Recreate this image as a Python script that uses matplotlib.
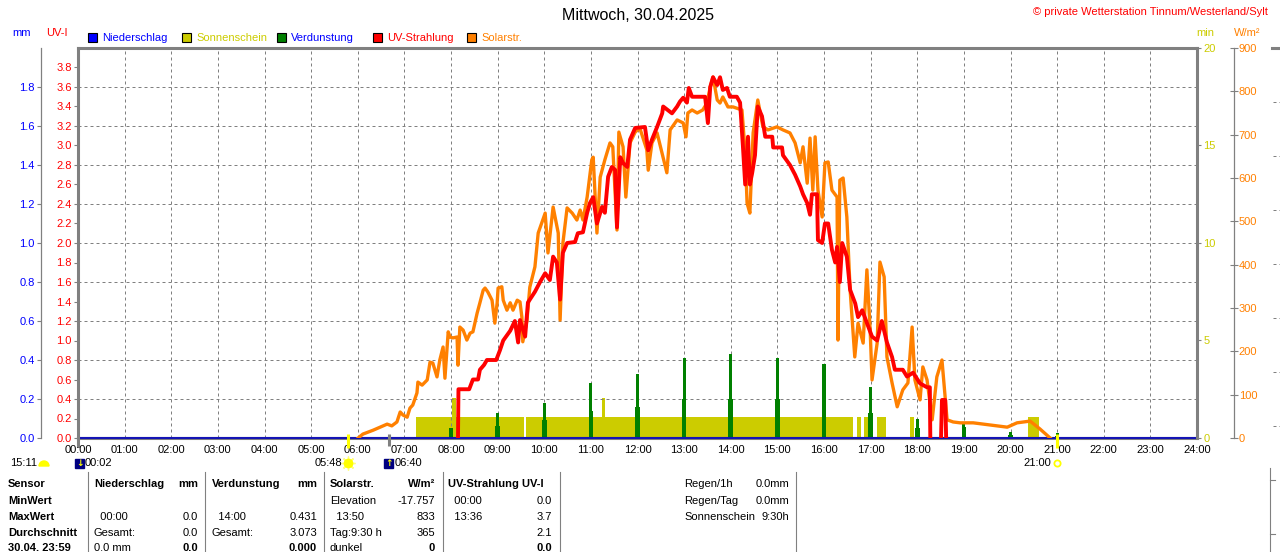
import numpy as np
import matplotlib
matplotlib.use("Agg")
import matplotlib.pyplot as plt
import matplotlib.transforms as mtransforms
from matplotlib.patches import Rectangle, Wedge
from matplotlib.lines import Line2D

plt.rcParams['font.family'] = ['Liberation Sans', 'DejaVu Sans']
plt.rcParams['font.size'] = 8

# ---------------- data ----------------
hours = list(range(25))
hour_labels = ["%02d:00" % h for h in hours]

# Sonnenschein (min)
sun_start = [7.25, 8.02, 9.61, 11.24, 16.71, 16.86, 17.14, 17.85, 20.38]
sun_end = [9.57, 8.11, 16.62, 11.30, 16.79, 16.97, 17.33, 17.93, 20.61]
sun_min = [1.08, 2.05, 1.08, 2.05, 1.08, 1.08, 1.08, 1.08, 1.08]

# Verdunstung (mm), hourly
evap_hours = [8, 9, 10, 11, 12, 13, 14, 15, 16, 17, 18, 19, 20, 21]
evap_mm = [0.05, 0.13, 0.18, 0.28, 0.33, 0.41, 0.431, 0.41, 0.38, 0.26, 0.10, 0.08, 0.03, 0.025]
evap_low = [0.03, 0.06, 0.09, 0.14, 0.16, 0.20, 0.20, 0.20, 0.19, 0.13, 0.05, 0.055, 0.015, 0.012]

# Niederschlag (mm)
rain_hours = [0, 24]
rain_mm = [0.0, 0.0]

# Solarstrahlung (W/m2)
solar_h = [6.01, 6.11, 6.33, 6.48, 6.63, 6.73, 6.84, 6.91, 6.97, 7.06, 7.12, 7.18, 7.27, 7.29,
           7.38, 7.49, 7.55, 7.61, 7.70, 7.76, 7.83, 7.87, 7.94, 7.98, 8.04, 8.13, 8.15, 8.19,
           8.26, 8.34, 8.41, 8.47, 8.56, 8.62, 8.69, 8.73, 8.79, 8.88, 8.94, 8.99, 9.01, 9.09,
           9.12, 9.20, 9.27, 9.33, 9.42, 9.48, 9.52, 9.54, 9.63, 9.69, 9.80, 9.87, 10.02, 10.08,
           10.19, 10.30, 10.34, 10.40, 10.49, 10.60, 10.70, 10.77, 10.83, 10.92, 11.02, 11.05,
           11.13, 11.20, 11.30, 11.41, 11.47, 11.56, 11.60, 11.69, 11.75, 11.84, 11.95, 12.05,
           12.20, 12.23, 12.31, 12.42, 12.63, 12.70, 12.85, 12.98, 13.04, 13.08, 13.17, 13.28,
           13.40, 13.49, 13.56, 13.62, 13.71, 13.77, 13.83, 13.94, 14.05, 14.24, 14.31, 14.35,
           14.41, 14.48, 14.58, 14.69, 14.80, 14.99, 15.12, 15.27, 15.38, 15.49, 15.55, 15.64,
           15.70, 15.76, 15.81, 15.87, 15.96, 16.02, 16.09, 16.17, 16.28, 16.30, 16.34, 16.41,
           16.49, 16.56, 16.66, 16.73, 16.84, 16.92, 16.99, 17.03, 17.14, 17.20, 17.29, 17.35,
           17.46, 17.57, 17.69, 17.80, 17.89, 17.95, 18.06, 18.12, 18.21, 18.32, 18.42, 18.53,
           18.64, 18.77, 18.92, 19.20, 19.56, 19.93, 20.14, 20.42, 20.63, 20.85]
solar_w = [0, 9, 18, 25, 32, 28, 37, 60, 53, 48, 69, 76, 104, 129,
           122, 134, 175, 173, 141, 180, 210, 138, 245, 233, 231, 233, 168, 256,
           249, 226, 242, 245, 288, 312, 341, 346, 337, 318, 265, 312, 346, 349,
           318, 295, 312, 295, 318, 314, 279, 222, 272, 348, 395, 473, 519, 427,
           533, 473, 272, 450, 531, 519, 503, 526, 503, 556, 642, 648,
           473, 602, 642, 681, 672, 480, 706, 672, 556, 681, 706, 715,
           665, 618, 681, 704, 612, 711, 734, 727, 695, 750, 757, 750,
           757, 773, 810, 833, 780, 773, 787, 764, 764, 757, 658, 542,
           519, 704, 780, 718, 711, 718, 711, 704, 681, 635, 672, 588,
           692, 572, 695, 572, 510, 635, 637, 572, 556, 226, 595, 600,
           510, 342, 187, 265, 219, 388, 249, 134, 219, 406, 372, 187,
           127, 72, 111, 127, 256, 134, 88, 164, 134, 42, 141, 180,
           42, 37, 35, 35, 30, 25, 35, 39, 21, 0]

# UV-Strahlung (UV-I)
uv_h = [8.15, 8.16, 8.39, 8.47, 8.58, 8.62, 8.71, 8.77, 8.97, 9.05, 9.12, 9.27, 9.37, 9.44,
        9.48, 9.59, 9.65, 9.80, 9.91, 10.02, 10.12, 10.19, 10.27, 10.34, 10.40, 10.49, 10.66,
        10.72, 10.83, 10.92, 10.98, 11.05, 11.13, 11.24, 11.30, 11.37, 11.45, 11.52, 11.56,
        11.63, 11.69, 11.78, 11.84, 11.95, 12.16, 12.23, 12.31, 12.42, 12.53, 12.55, 12.74,
        12.85, 12.91, 12.98, 13.06, 13.10, 13.17, 13.45, 13.51, 13.56, 13.62, 13.71, 13.77,
        13.83, 13.92, 13.98, 14.13, 14.20, 14.26, 14.31, 14.37, 14.41, 14.46, 14.52, 14.58,
        14.67, 14.74, 14.89, 14.91, 15.10, 15.12, 15.27, 15.38, 15.49, 15.55, 15.64, 15.70,
        15.74, 15.85, 15.87, 15.96, 16.02, 16.09, 16.17, 16.24, 16.28, 16.34, 16.39, 16.49,
        16.56, 16.67, 16.73, 16.82, 16.92, 17.03, 17.14, 17.24, 17.35, 17.46, 17.52, 17.69,
        17.78, 17.91, 18.06, 18.21, 18.27, 18.28, 18.40, 18.51, 18.53, 18.60, 18.62]
uv_v = [0, 0.5, 0.5, 0.6, 0.6, 0.7, 0.75, 0.8, 0.8, 0.9, 1.0, 1.1, 1.2, 0.98,
        1.21, 1.04, 1.39, 1.5, 1.6, 1.69, 1.62, 1.86, 1.8, 1.42, 1.9, 2.0, 2.01,
        2.1, 2.11, 2.31, 2.41, 2.47, 2.2, 2.37, 2.31, 2.68, 2.78, 2.75, 2.16,
        2.88, 2.82, 2.78, 3.06, 3.18, 3.19, 2.95, 3.06, 3.19, 3.33, 3.4, 3.33,
        3.4, 3.45, 3.49, 3.44, 3.59, 3.5, 3.5, 3.23, 3.6, 3.7, 3.62, 3.7,
        3.57, 3.59, 3.5, 3.5, 3.44, 3.0, 2.6, 3.09, 2.6, 2.72, 2.9, 3.4,
        3.3, 3.09, 3.09, 2.98, 2.98, 2.9, 2.8, 2.7, 2.58, 2.5, 2.41, 2.29,
        2.5, 2.5, 2.03, 2.0, 2.2, 2.2, 1.93, 1.8, 1.96, 1.6, 2.0, 1.86,
        1.52, 1.38, 1.24, 1.31, 1.18, 1.04, 1.0, 1.2, 0.98, 0.83, 0.7, 0.7,
        0.63, 0.67, 0.56, 0.52, 0.52, 0, np.nan, 0, 0.39, 0.39, 0]

uv_ticks = [round(0.2 * i, 1) for i in range(20)]
mm_ticks = [round(0.2 * i, 1) for i in range(10)]
min_ticks = [0, 5, 10, 15, 20]
w_ticks = list(range(0, 1000, 100))

# events below the time axis
moon_set = ("00:02", 2 / 60)
sun_rise = ("05:48", 5.8)
moon_rise = ("06:40", 6 + 40 / 60)
sun_set = ("21:00", 21.0)

legend_names = ["Niederschlag", "Sonnenschein", "Verdunstung", "UV-Strahlung", "Solarstr."]

# table
row_names = ["Sensor", "MinWert", "MaxWert", "Durchschnitt", "30.04. 23:59"]
tab_cols = [
    (94, 198, ["Niederschlag", "", "  00:00", "Gesamt:", "0.0 mm"],
     ["mm", "", "0.0", "0.0", "0.0"]),
    (212, 317, ["Verdunstung", "", "  14:00", "Gesamt:", ""],
     ["mm", "", "0.431", "3.073", "0.000"]),
    (330, 435, ["Solarstr.", "Elevation", "  13:50", "Tag:9:30 h", "dunkel"],
     ["W/m²", "-17.757", "833", "365", "0"]),
    (448, 552, ["UV-Strahlung UV-I", "  00:00", "  13:36", "", ""],
     ["", "0.0", "3.7", "2.1", "0.0"]),
]
extra_names = ["Regen/1h", "Regen/Tag", "Sonnenschein"]
extra_vals = ["0.0mm", "0.0mm", "9:30h"]

# ---------------- style ----------------
BLUE = '#0000FF'
YEL = '#CCCC00'
GREEN = '#008000'
RED = '#FF0000'
ORANGE = '#FF8000'
GRAY = '#808080'
SUNY = '#FFFF00'

W, H = 1280, 552
fig = plt.figure(figsize=(12.8, 5.52), dpi=100)
px = mtransforms.Affine2D().scale(1 / W, -1 / H).translate(0, 1) + fig.transFigure

L, R, T, B = 78, 1197, 48, 438
ax = fig.add_axes([L / W, 1 - B / H, (R - L) / W, (B - T) / H])
ax_min = ax.twinx()
ax_mm = ax.twinx()
ax_w = ax.twinx()
for i, a in enumerate([ax_min, ax_mm, ax_w, ax]):
    a.set_zorder(i + 1)
    a.patch.set_visible(False)
    for s in a.spines.values():
        s.set_visible(False)

ax.set_xlim(0, 24)
ax.set_ylim(0, 4)
ax_mm.set_ylim(0, 2)
ax_min.set_ylim(0, 20)
ax_w.set_ylim(0, 900)

# frame
for side in ['left', 'top', 'right']:
    ax.spines[side].set_visible(True)
    ax.spines[side].set_color(GRAY)
    ax.spines[side].set_linewidth(2.2)
ax_min.spines['bottom'].set_visible(True)
ax_min.spines['bottom'].set_color(GRAY)
ax_min.spines['bottom'].set_linewidth(2.2)
fig.add_artist(Line2D([L, L], [438, 446], transform=px, color=GRAY, linewidth=2.2))

# grid (drawn on lowest axes, in min units: 0.4 UV-I = 2 min)
dash = [(0, (3, 3))]
ax_min.vlines(hours[1:24], 0, 20, colors=GRAY, linewidth=0.72, linestyles=dash)
ax_min.hlines(range(2, 20, 2), 0, 24, colors=GRAY, linewidth=0.72, linestyles=dash)

# x axis
ax.set_xticks(hours)
ax.set_xticklabels(hour_labels)
ax.tick_params(axis='x', length=0, pad=5, labelsize=8)

# UV axis
ax.yaxis.tick_left()
ax.set_yticks(uv_ticks)
ax.set_yticklabels(["%.1f" % v for v in uv_ticks])
ax.tick_params(axis='y', direction='out', length=3, width=0.8, color=GRAY,
               labelcolor=RED, pad=1.5, labelsize=8)

# mm axis
ax_mm.spines['left'].set_visible(True)
ax_mm.spines['left'].set_position(('axes', -37 / 1119))
ax_mm.spines['left'].set_color(GRAY)
ax_mm.spines['left'].set_linewidth(0.9)
ax_mm.yaxis.tick_left()
ax_mm.set_yticks(mm_ticks)
ax_mm.set_yticklabels(["%.1f" % v for v in mm_ticks])
ax_mm.tick_params(axis='y', direction='out', length=3, width=0.8, color=GRAY,
                  labelcolor=BLUE, pad=1.5, labelsize=8)

# min axis
ax_min.set_yticks(min_ticks)
ax_min.tick_params(axis='y', direction='out', length=3, width=0.8, color=GRAY,
                   labelcolor=YEL, pad=1.5, labelsize=8, left=False, right=True,
                   labelleft=False, labelright=True)

# W/m2 axis
ax_w.spines['right'].set_visible(True)
ax_w.spines['right'].set_position(('axes', 1 + 37 / 1119))
ax_w.spines['right'].set_color(GRAY)
ax_w.spines['right'].set_linewidth(0.9)
ax_w.set_yticks(w_ticks)
ax_w.tick_params(axis='y', direction='inout', length=6, width=0.8, color=GRAY,
                 labelcolor=ORANGE, pad=0.5, labelsize=8)

# series
ax_min.bar(sun_start, sun_min, width=np.subtract(sun_end, sun_start), align='edge',
           color=YEL, linewidth=0)
ax_mm.bar(evap_hours, evap_low, width=0.1, color=GREEN, linewidth=0)
ax_mm.bar(evap_hours, evap_mm, width=0.065, color=GREEN, linewidth=0)
ax_mm.plot(rain_hours, rain_mm, color='#1414B4', linewidth=1.5, clip_on=False,
           solid_capstyle='butt')
ax_w.plot(solar_h, solar_w, color=ORANGE, linewidth=2.4)
ax.plot(uv_h, uv_v, color=RED, linewidth=2.8)

# sunrise / sunset / moon markers
blend = mtransforms.blended_transform_factory(ax.transData, px)
for t, c, y1 in [(sun_rise[1], SUNY, 448), (moon_rise[1], GRAY, 446), (sun_set[1], SUNY, 448)]:
    ax.plot([t, t], [434, y1], transform=blend, color=c, linewidth=2.2, clip_on=False,
            solid_capstyle='butt', zorder=5)

ev_y = 463
hw = 4.5 / ((R - L) / 24)
for (lab, t), arrow in [(moon_set, '↓'), (moon_rise, '↑')]:
    ax.add_patch(Rectangle((t - hw, ev_y - 4.5), 2 * hw, 9, transform=blend,
                           color='#000080', clip_on=False))
    ax.text(t, ev_y + 0.5, arrow, transform=blend, color=SUNY, fontsize=6.5,
            family='DejaVu Sans', ha='center', va='center', clip_on=False, fontweight='bold')
    ax.text(t + 1.2 * hw, ev_y, lab, transform=blend, ha='left', va='center', fontsize=8,
            clip_on=False)
for lab, t in [sun_rise, sun_set]:
    ax.text(t - 1.4 * hw, ev_y, lab, transform=blend, ha='right', va='center', fontsize=8,
            clip_on=False)
ax.plot([sun_rise[1]], [ev_y], transform=blend, marker=(8, 2, 0), ms=10, color='#FFFF80',
        mew=1, clip_on=False)
ax.plot([sun_rise[1]], [ev_y], transform=blend, marker='o', ms=6, color=SUNY, clip_on=False)
ax.plot([sun_set[1]], [ev_y], transform=blend, marker='o', ms=4.5, mfc='white', mec=SUNY,
        mew=1.3, clip_on=False)
fig.text(10, ev_y, "15:11", transform=px, ha='left', va='center', fontsize=8)
fig.add_artist(Wedge((44, ev_y + 3), 5, 180, 360, transform=px, color=SUNY))

# header
fig.text(638, 15, "Mittwoch, 30.04.2025", transform=px, ha='center', va='center', fontsize=11.5)
fig.text(1268, 12, "© private Wetterstation Tinnum/Westerland/Sylt", transform=px,
         ha='right', va='center', color=RED, fontsize=8)
fig.text(22, 33, "mm", transform=px, ha='center', va='center', color=BLUE, fontsize=8)
fig.text(57, 33, "UV-I", transform=px, ha='center', va='center', color=RED, fontsize=8)
fig.text(1205, 33, "min", transform=px, ha='center', va='center', color=YEL, fontsize=8)
fig.text(1247, 33, "W/m²", transform=px, ha='center', va='center', color=ORANGE, fontsize=8)

leg_x = [88, 182, 277, 373, 467]
leg_box = [BLUE, YEL, GREEN, RED, ORANGE]
leg_txt = [BLUE, YEL, BLUE, RED, ORANGE]
for x0, name, cb, ct in zip(leg_x, legend_names, leg_box, leg_txt):
    fig.add_artist(Rectangle((x0, 33), 9, 9, transform=px, facecolor=cb, edgecolor='black',
                             linewidth=0.8))
    fig.text(x0 + 14, 38, name, transform=px, ha='left', va='center', color=ct, fontsize=8)

# table
row_y = [484, 501, 517, 533, 548]
for y, name in zip(row_y, row_names):
    fig.text(8, y, name, transform=px, ha='left', va='center', fontsize=8, fontweight='bold')
for xl, xr, lefts, rights in tab_cols:
    for i, (y, a, b) in enumerate(zip(row_y, lefts, rights)):
        bold = 'bold' if i in (0, 4) else 'normal'
        fig.text(xl, y, a, transform=px, ha='left', va='center', fontsize=8,
                 fontweight='bold' if i == 0 else 'normal')
        fig.text(xr, y, b, transform=px, ha='right', va='center', fontsize=8, fontweight=bold)
for y, a, b in zip(row_y, extra_names, extra_vals):
    fig.text(684, y, a, transform=px, ha='left', va='center', fontsize=8)
    fig.text(789, y, b, transform=px, ha='right', va='center', fontsize=8)
for x in [88, 205, 324, 443, 560, 796]:
    fig.add_artist(Line2D([x, x], [472, 552], transform=px, color=GRAY, linewidth=0.8))

# bits of the neighbouring panel at the right edge
fig.add_artist(Line2D([1272, 1280], [48, 48], transform=px, color=GRAY, linewidth=2.2))
for y in [102, 156, 210, 264, 318, 372, 426]:
    fig.add_artist(Line2D([1273, 1280], [y, y], transform=px, color=GRAY, linewidth=0.72,
                          linestyle=(0, (3, 3))))
fig.add_artist(Line2D([1270, 1270], [468, 552], transform=px, color=GRAY, linewidth=0.8))
for y in [480, 534]:
    fig.add_artist(Line2D([1270, 1275], [y, y], transform=px, color=GRAY, linewidth=0.8))

fig.savefig("out.png", dpi=100)
